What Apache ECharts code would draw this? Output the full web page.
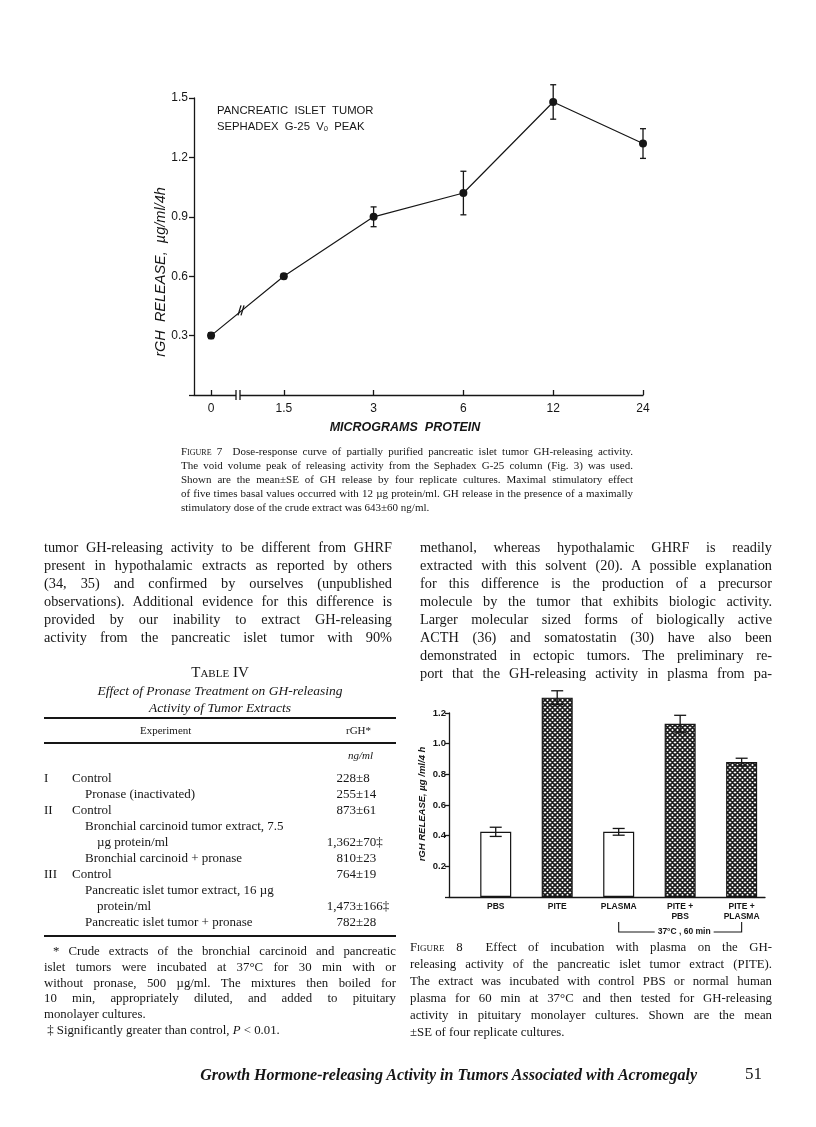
<!DOCTYPE html>
<html>
<head>
<meta charset="utf-8">
<script src="https://cdn.jsdelivr.net/npm/echarts@6/dist/echarts.min.js"></script>
<style>
  html, body { margin: 0; padding: 0; background: #fff; }
  #page { position: relative; width: 816px; height: 1127px; overflow: hidden; }
  #chart { position: absolute; left: 0; top: 0; width: 816px; height: 1127px; }
  .t { position: absolute; font-family: 'Liberation Serif', 'Times New Roman', serif; color: #161616; }
  .j { text-align: justify; text-align-last: justify; }
  .c { text-align: center; }
  .sc { font-variant: small-caps; }
  .rule { position: absolute; left: 44px; width: 352px; background: #161616; }
  .v .a { display: inline-block; width: 56px; text-align: right; }
</style>
</head>
<body>
<div id="page">
  <div id="chart"></div>

  <!-- Figure 7 caption -->
  <div class="t j" style="left:181px;top:444px;width:452px;font-size:11px;line-height:14px;">
    <span class="sc">Figure</span> 7&nbsp; Dose-response curve of partially purified pancreatic islet tumor GH-releasing activity.<br>
    The void volume peak of releasing activity from the Sephadex G-25 column (Fig. 3) was used.<br>
    Shown are the mean±SE of GH release by four replicate cultures. Maximal stimulatory effect<br>
    of five times basal values occurred with 12 µg protein/ml. GH release in the presence of a maximally
  </div>
  <div class="t" style="left:181px;top:500px;width:452px;font-size:11px;line-height:14px;">stimulatory dose of the crude extract was 643±60 ng/ml.</div>

  <!-- body text, two columns -->
  <div class="t j" style="left:44px;top:538px;width:348px;font-size:14.3px;line-height:18px;">
    tumor GH-releasing activity to be different from GHRF<br>
    present in hypothalamic extracts as reported by others<br>
    (34, 35) and confirmed by ourselves (unpublished<br>
    observations). Additional evidence for this difference is<br>
    provided by our inability to extract GH-releasing<br>
    activity from the pancreatic islet tumor with 90%
  </div>
  <div class="t j" style="left:420px;top:538px;width:352px;font-size:14.3px;line-height:18px;">
    methanol, whereas hypothalamic GHRF is readily<br>
    extracted with this solvent (20). A possible explanation<br>
    for this difference is the production of a precursor<br>
    molecule by the tumor that exhibits biologic activity.<br>
    Larger molecular sized forms of biologically active<br>
    ACTH (36) and somatostatin (30) have also been<br>
    demonstrated in ectopic tumors. The preliminary re-<br>
    port that the GH-releasing activity in plasma from pa-
  </div>

  <!-- Table IV -->
  <div class="t c" style="left:44px;top:663px;width:352px;font-size:15px;line-height:18px;"><span class="sc">Table</span> IV</div>
  <div class="t c" style="left:44px;top:682px;width:352px;font-size:13.5px;line-height:17px;font-style:italic;">
    Effect of Pronase Treatment on GH-releasing<br>Activity of Tumor Extracts
  </div>
  <div class="rule" style="top:717px;height:2px;"></div>
  <div class="t" style="left:140px;top:723px;font-size:11px;line-height:14px;">Experiment</div>
  <div class="t" style="left:346px;top:723px;font-size:11px;line-height:14px;">rGH*</div>
  <div class="rule" style="top:742px;height:1.5px;"></div>
  <div class="t" style="left:348px;top:748px;font-size:11px;line-height:14px;font-style:italic;">ng/ml</div>

  <div class="t" style="left:44px;top:770px;font-size:13px;line-height:16px;">
    I<br><br>II<br><br><br><br>III
  </div>
  <div class="t" style="left:72px;top:770px;font-size:13px;line-height:16px;">
    Control<br>
    <span style="padding-left:13px">Pronase (inactivated)</span><br>
    Control<br>
    <span style="padding-left:13px">Bronchial carcinoid tumor extract, 7.5</span><br>
    <span style="padding-left:25px">µg protein/ml</span><br>
    <span style="padding-left:13px">Bronchial carcinoid + pronase</span><br>
    Control<br>
    <span style="padding-left:13px">Pancreatic islet tumor extract, 16 µg</span><br>
    <span style="padding-left:25px">protein/ml</span><br>
    <span style="padding-left:13px">Pancreatic islet tumor + pronase</span>
  </div>
  <div class="t v" style="left:300px;top:770px;font-size:13px;line-height:16px;">
    <span class="a">228</span>±8<br>
    <span class="a">255</span>±14<br>
    <span class="a">873</span>±61<br>
    <br>
    <span class="a">1,362</span>±70‡<br>
    <span class="a">810</span>±23<br>
    <span class="a">764</span>±19<br>
    <br>
    <span class="a">1,473</span>±166‡<br>
    <span class="a">782</span>±28
  </div>
  <div class="rule" style="top:935px;height:2px;"></div>
  <div class="t j" style="left:44px;top:944px;width:352px;font-size:12.8px;line-height:15.8px;">
    &nbsp;* Crude extracts of the bronchial carcinoid and pancreatic<br>
    islet tumors were incubated at 37°C for 30 min with or<br>
    without pronase, 500 µg/ml. The mixtures then boiled for<br>
    10 min, appropriately diluted, and added to pituitary
  </div>
  <div class="t" style="left:44px;top:1007.2px;width:352px;font-size:12.8px;line-height:15.8px;">
    monolayer cultures.<br>&nbsp;‡ Significantly greater than control, <i>P</i> &lt; 0.01.
  </div>

  <!-- Figure 8 caption -->
  <div class="t j" style="left:410px;top:939px;width:362px;font-size:12.8px;line-height:17px;">
    <span class="sc">Figure</span> 8&nbsp; Effect of incubation with plasma on the GH-<br>
    releasing activity of the pancreatic islet tumor extract (PITE).<br>
    The extract was incubated with control PBS or normal human<br>
    plasma for 60 min at 37°C and then tested for GH-releasing<br>
    activity in pituitary monolayer cultures. Shown are the mean
  </div>
  <div class="t" style="left:410px;top:1024px;width:362px;font-size:12.8px;line-height:17px;">±SE of four replicate cultures.</div>

  <!-- running footer -->
  <div class="t" style="left:100px;top:1065px;width:597px;text-align:right;white-space:nowrap;font-size:16px;line-height:20px;font-style:italic;font-weight:bold;">Growth Hormone-releasing Activity in Tumors Associated with Acromegaly</div>
  <div class="t" style="left:745px;top:1064px;font-size:17px;line-height:20px;">51</div>
</div>

<script>
// Figure 7: dose response (pancreatic islet tumor, Sephadex G-25 V0 peak)
const doses = [0, 1.5, 3, 6, 12, 24];
const doseLabels = ['0', '1.5', '3', '6', '12', '24'];
const releaseMean = [0.30, 0.60, 0.90, 1.02, 1.48, 1.27];
const releaseSE = [0.015, 0.012, 0.05, 0.11, 0.087, 0.075];

// Figure 8: effect of plasma incubation
const groups = ['PBS', 'PITE', 'PLASMA', 'PITE +\nPBS', 'PITE +\nPLASMA'];
const groupMean = [0.425, 1.30, 0.425, 1.13, 0.88];
const groupSE = [0.03, 0.045, 0.022, 0.055, 0.025];
const hatched = [false, true, false, true, true];

// x axis of fig 7 is doubling doses; 0 sits before the axis break
const ZERO_POS = 0.19;
const dosePos = d => d === 0 ? ZERO_POS : Math.log2(d / 1.5) + 1;
const xPos = doses.map(dosePos);
const groupPos = groups.map((g, i) => i);

const ink = '#161616';
const sans = 'Liberation Sans, Arial, sans-serif';

// crosshatch fill: white diamonds in a dark mesh
const pat = document.createElement('canvas');
pat.width = 5; pat.height = 5;
const pctx = pat.getContext('2d');
pctx.fillStyle = '#fff'; pctx.fillRect(0, 0, 5, 5);
pctx.strokeStyle = '#1a1a1a'; pctx.lineWidth = 1.7;
pctx.beginPath();
pctx.moveTo(-1, -1); pctx.lineTo(6, 6);
pctx.moveTo(-1, 6); pctx.lineTo(6, -1);
pctx.moveTo(-1, 4); pctx.lineTo(1, 6); pctx.moveTo(4, -1); pctx.lineTo(6, 1);
pctx.moveTo(-1, 1); pctx.lineTo(1, -1); pctx.moveTo(4, 6); pctx.lineTo(6, 4);
pctx.stroke();
const hatch = { image: pat, repeat: 'repeat' };

function errorBars(cap) {
  return function (params, api) {
    const x = api.value(0), m = api.value(1), e = api.value(2);
    const hi = api.coord([x, m + e]), lo = api.coord([x, m - e]);
    const s = { stroke: ink, lineWidth: 1.3 };
    return { type: 'group', children: [
      { type: 'line', shape: { x1: hi[0], y1: hi[1], x2: lo[0], y2: lo[1] }, style: s },
      { type: 'line', shape: { x1: hi[0] - cap, y1: hi[1], x2: hi[0] + cap, y2: hi[1] }, style: s },
      { type: 'line', shape: { x1: lo[0] - cap, y1: lo[1], x2: lo[0] + cap, y2: lo[1] }, style: s }
    ] };
  };
}

const chart = echarts.init(document.getElementById('chart'), null, { renderer: 'canvas' });

chart.setOption({
  animation: false,
  backgroundColor: 'transparent',
  grid: [
    { left: 194, top: 98, width: 449, height: 297 },
    { left: 449, top: 713, width: 316, height: 184 }
  ],
  xAxis: [
    {
      gridIndex: 0, type: 'value', min: 0, max: 5,
      axisLine: { onZero: false, lineStyle: { color: ink, width: 1.3 } },
      axisTick: { customValues: xPos, inside: true, length: 5, lineStyle: { color: ink, width: 1.3 } },
      axisLabel: {
        customValues: xPos, margin: 8, color: ink, fontFamily: sans, fontSize: 12,
        formatter: v => doseLabels[xPos.findIndex(p => Math.abs(p - v) < 1e-6)]
      },
      splitLine: { show: false }
    },
    {
      gridIndex: 1, type: 'value', min: -0.76, max: 4.38,
      axisLine: { onZero: false, lineStyle: { color: ink, width: 1.3 } },
      axisTick: { show: false },
      axisLabel: {
        customValues: groupPos, margin: 5, color: ink, fontFamily: sans, fontSize: 8.5,
        fontWeight: 'bold', lineHeight: 10, formatter: v => groups[Math.round(v)]
      },
      splitLine: { show: false }
    }
  ],
  yAxis: [
    {
      gridIndex: 0, type: 'value', min: 0, max: 1.5, interval: 0.3,
      axisLine: { show: true, onZero: false, lineStyle: { color: ink, width: 1.3 } },
      axisTick: { show: true, length: 5, lineStyle: { color: ink, width: 1.3 } },
      axisLabel: { margin: 6, color: ink, fontFamily: sans, fontSize: 12,
        formatter: v => v === 0 ? '' : v.toFixed(1) },
      splitLine: { show: false }
    },
    {
      gridIndex: 1, type: 'value', min: 0, max: 1.2, interval: 0.2,
      axisLine: { show: true, onZero: false, lineStyle: { color: ink, width: 1.3 } },
      axisTick: { show: true, length: 4, lineStyle: { color: ink, width: 1.3 } },
      axisLabel: { margin: 3, color: ink, fontFamily: sans, fontSize: 9.5, fontWeight: 'bold',
        formatter: v => v === 0 ? '' : v.toFixed(1) },
      splitLine: { show: false }
    }
  ],
  series: [
    {
      type: 'line', xAxisIndex: 0, yAxisIndex: 0, z: 3,
      data: xPos.map((x, i) => [x, releaseMean[i]]),
      symbol: 'circle', symbolSize: 8,
      itemStyle: { color: ink },
      lineStyle: { color: ink, width: 1.2 }
    },
    {
      type: 'custom', xAxisIndex: 0, yAxisIndex: 0, z: 4,
      renderItem: errorBars(3),
      data: xPos.map((x, i) => [x, releaseMean[i], releaseSE[i]])
    },
    {
      type: 'bar', xAxisIndex: 1, yAxisIndex: 1, barWidth: 31, clip: false,
      data: groupMean.map((v, i) => ({
        value: [groupPos[i], v],
        itemStyle: { color: hatched[i] ? hatch : '#fff', borderColor: ink, borderWidth: 1.2 }
      }))
    },
    {
      type: 'custom', xAxisIndex: 1, yAxisIndex: 1, z: 4, clip: false,
      renderItem: errorBars(6),
      data: groupPos.map((x, i) => [x, groupMean[i], groupSE[i]])
    }
  ]
});

// decorations placed from the axes: titles, breaks, bracket
function px(grid, v) { return chart.convertToPixel({ gridIndex: grid }, v); }

const o7 = px(0, [0, 0]);
const p0 = px(0, [xPos[0], releaseMean[0]]);
const p1 = px(0, [xPos[1], releaseMean[1]]);
const bx = 242;
const by = p0[1] + (p1[1] - p0[1]) * (bx - p0[0]) / (p1[0] - p0[0]);
const axBreak = 238;
const b8a = px(1, [2, 0]);
const b8b = px(1, [4, 0]);
const brY = b8a[1] + 35;
const stroke = { stroke: ink, lineWidth: 1.3 };

chart.setOption({
  graphic: [
    { type: 'text', x: 161, y: 272, rotation: Math.PI / 2,
      style: { text: 'rGH  RELEASE,  µg/ml/4h', font: 'italic 14.5px ' + sans, fill: ink, align: 'center', verticalAlign: 'middle' } },
    { type: 'text', x: 405, y: 428,
      style: { text: 'MICROGRAMS  PROTEIN', font: 'italic bold 12.5px ' + sans, fill: ink, align: 'center', verticalAlign: 'middle' } },
    { type: 'text', x: 217, y: 103,
      style: { text: 'PANCREATIC  ISLET  TUMOR\nSEPHADEX  G-25  Vₒ  PEAK', font: '11.3px ' + sans, lineHeight: 16, fill: ink, align: 'left', verticalAlign: 'top' } },
    // axis break on fig 7 x axis
    { type: 'rect', shape: { x: axBreak - 2, y: o7[1] - 3, width: 4, height: 6 }, style: { fill: '#fff' }, z: 10 },
    { type: 'line', shape: { x1: axBreak - 2, y1: o7[1] - 5, x2: axBreak - 2, y2: o7[1] + 5 }, style: stroke, z: 11 },
    { type: 'line', shape: { x1: axBreak + 2, y1: o7[1] - 5, x2: axBreak + 2, y2: o7[1] + 5 }, style: stroke, z: 11 },
    // break on the data line
    { type: 'line', shape: { x1: bx - 4, y1: by + 5, x2: bx - 1, y2: by - 5 }, style: stroke, z: 11 },
    { type: 'line', shape: { x1: bx - 1, y1: by + 5, x2: bx + 2, y2: by - 5 }, style: stroke, z: 11 },
    // fig 8 y title
    { type: 'text', x: 422, y: 804, rotation: Math.PI / 2,
      style: { text: 'rGH RELEASE, µg /ml/4 h', font: 'italic bold 9.5px ' + sans, fill: ink, align: 'center', verticalAlign: 'middle' } },
    // 37°C bracket
    { type: 'polyline', shape: { points: [[b8a[0], brY - 10], [b8a[0], brY], [b8b[0], brY], [b8b[0], brY - 10]] }, style: { stroke: ink, lineWidth: 1.1, fill: null } },
    { type: 'text', x: (b8a[0] + b8b[0]) / 2 + 4, y: brY,
      style: { text: '37°C , 60 min', font: 'bold 8.5px ' + sans, fill: ink, align: 'center', verticalAlign: 'middle',
        backgroundColor: '#fff', padding: [0, 3] }, z: 10 }
  ]
});
</script>
</body>
</html>
